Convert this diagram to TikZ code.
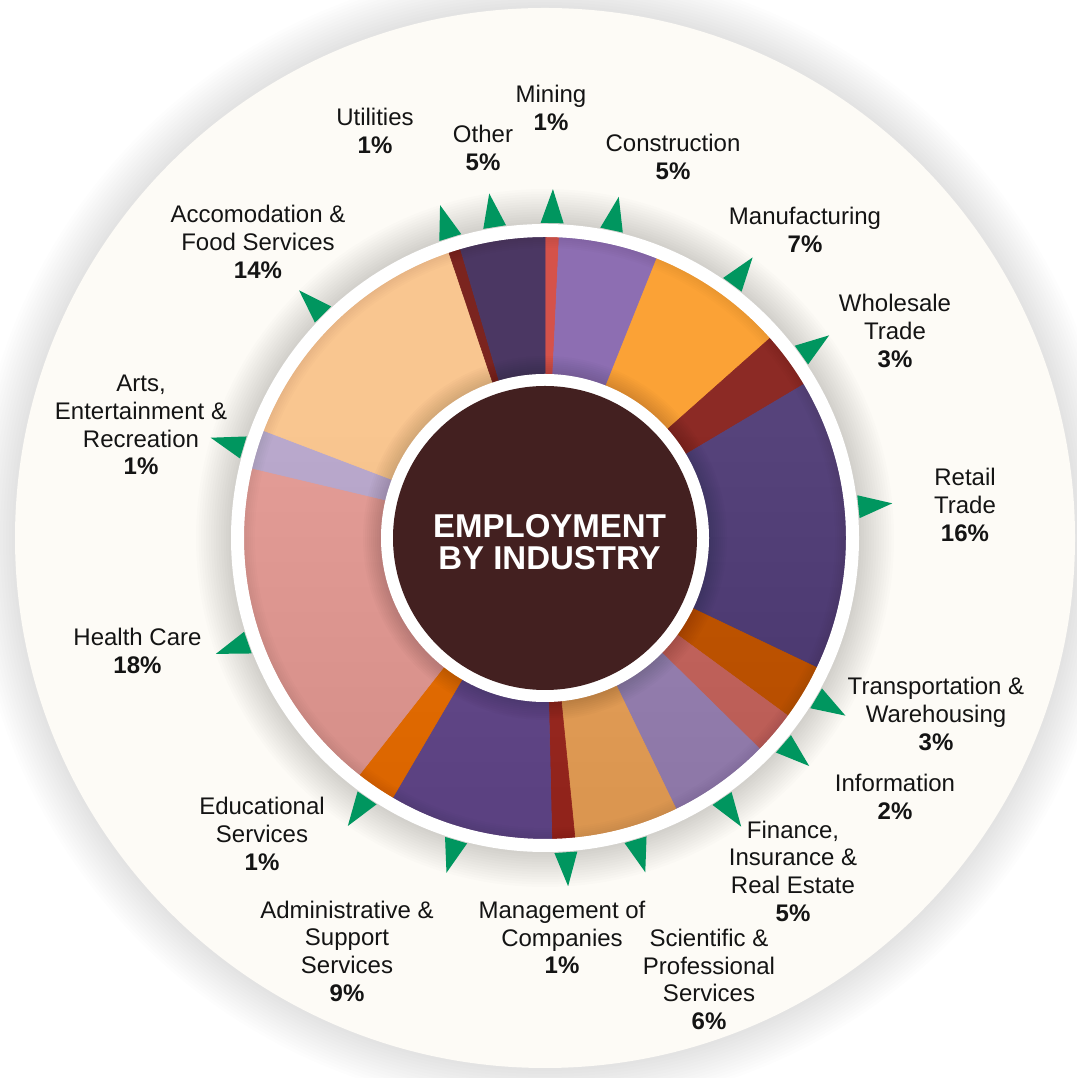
\documentclass[tikz,border=0pt]{standalone}
\usepackage{fontspec}
\setmainfont{Liberation Sans}
\definecolor{cream}{HTML}{FDFBF6}
\definecolor{ptgreen}{HTML}{00965F}
\definecolor{hub}{HTML}{432020}
\definecolor{cMining}{HTML}{D5524A}
\definecolor{cConstr}{HTML}{8D6EB2}
\definecolor{cManuf}{HTML}{FBA236}
\definecolor{cWhole}{HTML}{8C2A25}
\definecolor{cRetail}{HTML}{56437B}
\definecolor{cTrans}{HTML}{C45A06}
\definecolor{cInfo}{HTML}{C86A63}
\definecolor{cFin}{HTML}{9C86B6}
\definecolor{cSci}{HTML}{EAA55F}
\definecolor{cMgmt}{HTML}{A0322A}
\definecolor{cAdmin}{HTML}{6A5090}
\definecolor{cEdu}{HTML}{EA740C}
\definecolor{cHealth}{HTML}{E49D97}
\definecolor{cArts}{HTML}{BAA9CD}
\definecolor{cAccom}{HTML}{F9C690}
\definecolor{cUtil}{HTML}{7B241F}
\definecolor{cOther}{HTML}{4B3763}
\begin{document}
\begin{tikzpicture}[x=1pt,y=1pt,
  lab/.style={align=center, font=\fontsize{24}{27.7}\selectfont, text=black!92, inner sep=0pt},
  pointer/.style={fill=ptgreen},
  segfill/.style={fill=#1, draw=#1, line width=0.6pt}]
\useasboundingbox (0,0) rectangle (1076,1078);
\fill[white] (0,0) rectangle (1076,1078);
\begin{scope}[shift={(545,540)}]
  % shadow of the cream disc
  \foreach \i in {1,...,14} \fill[black, opacity=0.008] (0,0) circle ({530+3*\i});
  \fill[cream] (0,0) circle (530);
  % shadow of the donut on the cream
  \foreach \i in {1,...,14} \fill[black, opacity=0.011] (0,0) circle ({314+2.5*\i});
  % segments
  \foreach \a/\b/\c in {90/87.3/cMining, 87.3/68.2/cConstr, 68.2/41.6/cManuf, 41.6/30.7/cWhole,
      30.7/-25.5/cRetail, -25.5/-36.2/cTrans, -36.2/-44.5/cInfo, -44.5/-64.2/cFin,
      -64.2/-84.3/cSci, -84.3/-88.7/cMgmt, -88.7/-120.4/cAdmin, -120.4/-128.1/cEdu,
      -128.1/-193.4/cHealth, -193.4/-200.9/cArts, -200.9/-251.4/cAccom,
      -251.4/-253.7/cUtil, -253.7/-270/cOther}
  {
    \path[segfill=\c] (\a:164) -- (\a:301) arc[start angle=\a, end angle=\b, radius=301]
       -- (\b:164) arc[start angle=\b, end angle=\a, radius=164] -- cycle;
  }
  % shading overlays on the segments
  \begin{scope}
    \clip (0,0) circle (301);
    \foreach \i in {8,...,22} \fill[black, opacity=0.004] (-305,{301-\i*25}) rectangle (305,-305);
    \foreach \i in {0,...,5} \fill[black, opacity=0.01, even odd rule] (0,0) circle (302) (0,0) circle ({300-2*\i});
    \foreach \i in {1,...,9} \fill[black, opacity=0.017] (0,0) circle ({164+2*\i});
  \end{scope}
  % white rings and hub
  \fill[white, even odd rule] (0,0) circle (314) (0,0) circle (301);
  \fill[white] (0,0) circle (164);
  \node[circle, fill=hub, minimum size=304pt, inner sep=0pt] (hub) at (0,0) {};
  \node[text=white, align=center, inner sep=0pt,
        font=\bfseries\fontsize{33}{32}\selectfont] (title) at (4.5,-4) {EMPLOYMENT\\BY INDUSTRY};
  % pointers
  \foreach \t in {88.7, 77.8, 99.2, 107.5, 53.5, 35.5, 5.7, -30.6, -40.8, -55.8, -73.3,
                  -86.2, -106.4, -124.4, -160.6, 163.3, 134.8}
  {
    \fill[pointer, rotate=\t] (315,11.5) -- (349,0) -- (315,-11.5) -- cycle;
  }
\end{scope}
% labels
\node[lab] (lMining) at (551,970) {Mining\\\textbf{1\%}};
\node[lab] (lUtil) at (375,947) {Utilities\\\textbf{1\%}};
\node[lab] (lOther) at (483,930) {Other\\\textbf{5\%}};
\node[lab] (lConstr) at (673,921) {Construction\\\textbf{5\%}};
\node[lab] (lManuf) at (805,848) {Manufacturing\\\textbf{7\%}};
\node[lab] (lWhole) at (895,747) {Wholesale\\Trade\\\textbf{3\%}};
\node[lab] (lRetail) at (965,573) {Retail\\Trade\\\textbf{16\%}};
\node[lab] (lTrans) at (936,364) {Transportation \&\\Warehousing\\\textbf{3\%}};
\node[lab] (lInfo) at (895,281) {Information\\\textbf{2\%}};
\node[lab] (lFin) at (793,207) {Finance,\\Insurance \&\\Real Estate\\\textbf{5\%}};
\node[lab] (lSci) at (709,98.5) {Scientific \&\\Professional\\Services\\\textbf{6\%}};
\node[lab] (lMgmt) at (562,140.5) {Management of\\Companies\\\textbf{1\%}};
\node[lab] (lAdmin) at (347,127) {Administrative \&\\Support\\Services\\\textbf{9\%}};
\node[lab] (lEdu) at (262,244) {Educational\\Services\\\textbf{1\%}};
\node[lab] (lHealth) at (137.5,427) {Health Care\\\textbf{18\%}};
\node[lab] (lArts) at (141,653) {Arts,\\Entertainment \&\\Recreation\\\textbf{1\%}};
\node[lab] (lAccom) at (258,836) {Accomodation \&\\Food Services\\\textbf{14\%}};
\end{tikzpicture}
\end{document}
